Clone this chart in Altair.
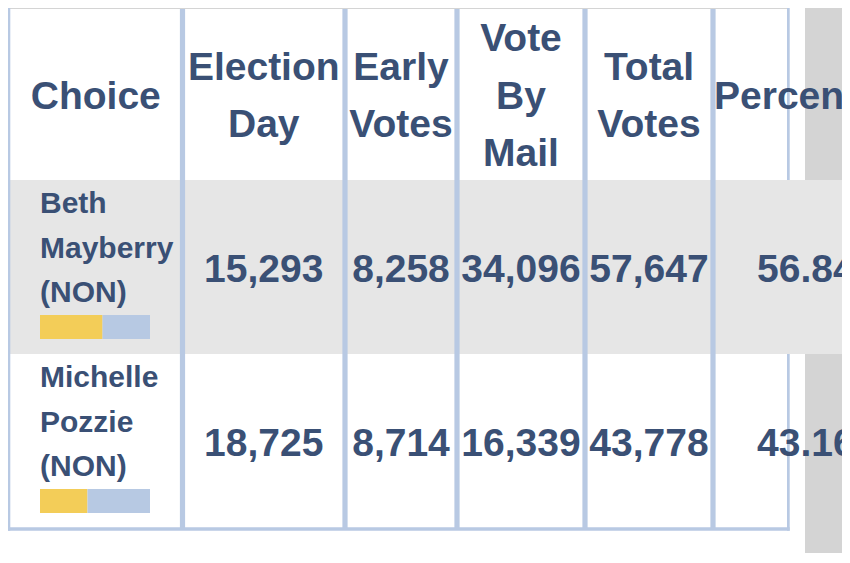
import altair as alt
import pandas as pd

# ---------------- data ----------------
headers = [["Choice"], ["Election", "Day"], ["Early", "Votes"], ["Vote", "By", "Mail"],
           ["Total", "Votes"], ["Percent"]]
candidates = [["Beth", "Mayberry", "(NON)"], ["Michelle", "Pozzie", "(NON)"]]
election_day = [15293, 18725]
early_votes = [8258, 8714]
vote_by_mail = [34096, 16339]
total_votes = [57647, 43778]
percent = [56.84, 43.16]

# ---------------- layout (page pixels) ----------------
W, H = 834, 545
X0, Y0 = 8, 8
col_lines = [9, 182.5, 345, 457, 585, 713, 788]
header_top, header_bot = 9, 180
row_tops = [180, 354]
row_h = 174
table_bottom = 528.5
pct_header_x = 714
pct_value_x = 757
name_x = 40
bar_x0, bar_x1 = 40, 150

TEXT = "#3a5075"
LINE = "#b8c9e3"
ROWGRAY = "#e6e6e6"
PANEL = "#d4d4d4"
YELLOW = "#f3cd58"
BLUE = "#b7c9e3"
FONT = "Liberation Sans"

xs = alt.Scale(domain=[X0, X0 + W], range=[0, W], nice=False, zero=False)
ys = alt.Scale(domain=[Y0, Y0 + H], range=[0, H], nice=False, zero=False)

# ---------------- structural rects ----------------
rects = [
    (0, 805, 0, 600, "#ffffff"),
    (0, 788, 0, 9, PANEL),
    (805, 860, 0, 600, PANEL),
    (10, 860, header_bot, row_tops[1], ROWGRAY),
]
for c in col_lines[1:-1]:
    rects.append((c - 2.6, c + 2.6, header_top, table_bottom, LINE))
rects += [
    (7.7, 10.3, 0, 530.7, LINE),
    (787, 789.7, 0, header_bot, LINE),
    (787, 789.7, row_tops[1], 530.7, LINE),
    (7.7, 789.7, 527.3, 530.7, LINE),
]
rect_df = pd.DataFrame(rects, columns=["x", "x2", "y", "y2", "fill"])
rect_layer = alt.Chart(rect_df).mark_rect(strokeWidth=0).encode(
    x=alt.X("x:Q", scale=xs, axis=None),
    x2="x2:Q",
    y=alt.Y("y:Q", scale=ys, axis=None),
    y2="y2:Q",
    color=alt.Color("fill:N", scale=None),
)

# ---------------- percentage bars ----------------
bar_rows = []
for i, p in enumerate(percent):
    top = row_tops[i] + 135
    bar_rows.append((0, p, top, top + 24, YELLOW))
    bar_rows.append((p, 100, top, top + 24, BLUE))
bar_df = pd.DataFrame(bar_rows, columns=["x", "x2", "y", "y2", "fill"])
bar_layer = alt.Chart(bar_df).mark_rect().encode(
    x=alt.X("x:Q", scale=alt.Scale(domain=[0, 100], range=[bar_x0 - X0, bar_x1 - X0],
                                   nice=False, zero=False), axis=None),
    x2="x2:Q",
    y=alt.Y("y:Q", scale=ys, axis=None),
    y2="y2:Q",
    color=alt.Color("fill:N", scale=None),
)

# ---------------- header text ----------------
centers = [(col_lines[i] + col_lines[i + 1]) / 2 for i in range(len(col_lines) - 1)]
hdr_rows = []
hdr_mid = (header_top + header_bot) / 2 + 14
for ci, lines in enumerate(headers[:-1]):
    n = len(lines)
    for li, t in enumerate(lines):
        hdr_rows.append((t, centers[ci], hdr_mid + (li - (n - 1) / 2) * 57.5))
hdr_df = pd.DataFrame(hdr_rows, columns=["t", "x", "y"])

def text_layer(df, size, align, fmt=None):
    txt = alt.Text("t:Q", format=fmt) if fmt else alt.Text("t:N")
    return alt.Chart(df).mark_text(
        font=FONT, fontWeight="bold", fontSize=size, color=TEXT,
        align=align, baseline="alphabetic",
    ).encode(
        x=alt.X("x:Q", scale=xs, axis=None),
        y=alt.Y("y:Q", scale=ys, axis=None),
        text=txt,
    )

hdr_layer = text_layer(hdr_df, 39, "center")
pct_hdr_df = pd.DataFrame([(headers[-1][0], pct_header_x, hdr_mid)], columns=["t", "x", "y"])
pct_hdr_layer = text_layer(pct_hdr_df, 39, "left")

# ---------------- candidate names ----------------
name_rows = []
for i, lines in enumerate(candidates):
    for li, t in enumerate(lines):
        name_rows.append((t, name_x, row_tops[i] + [33, 77.5, 122][li]))
name_df = pd.DataFrame(name_rows, columns=["t", "x", "y"])
name_layer = text_layer(name_df, 30, "left")

# ---------------- numbers ----------------
num_rows = []
for i in range(len(candidates)):
    yb = row_tops[i] + row_h / 2 + 14.5
    for ci, v in enumerate([election_day[i], early_votes[i], vote_by_mail[i], total_votes[i]]):
        num_rows.append((v, centers[ci + 1], yb))
num_df = pd.DataFrame(num_rows, columns=["t", "x", "y"])
num_layer = text_layer(num_df, 39, "center", fmt=",")

pct_rows = [(p / 100, pct_value_x, row_tops[i] + row_h / 2 + 14.5) for i, p in enumerate(percent)]
pct_df = pd.DataFrame(pct_rows, columns=["t", "x", "y"])
pct_layer = text_layer(pct_df, 39, "left", fmt=".2%")

chart = alt.layer(
    rect_layer, bar_layer, hdr_layer, pct_hdr_layer, name_layer, num_layer, pct_layer
).resolve_scale(x="independent").properties(
    width=W, height=H, padding=0,
    autosize=alt.AutoSizeParams(type="none"),
).configure_view(strokeWidth=0, stroke="transparent").configure(background="white")

chart.save("out.html", embed_options={"renderer": "svg", "actions": False})
